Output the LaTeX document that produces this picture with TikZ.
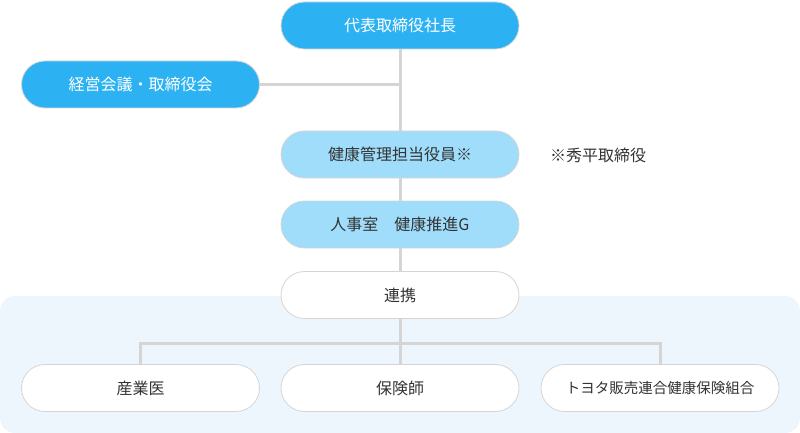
\documentclass[tikz,border=0pt]{standalone}
\usepackage{fontspec}
\setmainfont{Noto Sans CJK JP}
\definecolor{darkblue}{HTML}{2CB2F2}
\definecolor{lightblue}{HTML}{A0DDFB}
\definecolor{bgblue}{HTML}{EEF6FD}
\definecolor{linegray}{HTML}{D5D5D5}
\definecolor{textgray}{HTML}{333333}
\tikzset{
	box/.style={draw=linegray,line width=0.8pt,rounded corners=23.5pt,minimum width=238pt,minimum height=47pt,inner sep=0,font=\fontsize{16}{19}\selectfont,text=textgray},
	darkbox/.style={box,fill=darkblue,text=white},
	lightbox/.style={box,fill=lightblue},
	whitebox/.style={box,fill=white},
	conn/.style={draw=linegray,line width=3pt}
}
\begin{document}
\begin{tikzpicture}[x=1pt,y=-1pt]
	\useasboundingbox (0,0) rectangle (800,433);
	\fill[bgblue,rounded corners=15pt] (0,296) rectangle (800,433);
	\node[darkbox] (president) at (400,25.5) {代表取締役社長};
	\node[darkbox] (board) at (140.5,84.5) {経営会議・取締役会};
	\node[lightbox] (officer) at (400,154.5) {健康管理担当役員※};
	\node[lightbox] (hr) at (400,224.5) {人事室　健康推進G};
	\node[whitebox] (renkei) at (400,295) {連携};
	\node[whitebox] (doctor) at (140.5,388) {産業医};
	\node[whitebox] (nurse) at (400,388) {保険師};
	\node[whitebox,font=\fontsize{14.5}{17}\selectfont] (union) at (660,388) {トヨタ販売連合健康保険組合};
	\node[anchor=west,inner sep=0,font=\fontsize{16}{19}\selectfont,text=textgray] (note) at (550,155) {※秀平取締役};
	\coordinate (j1) at (400,84.5);
	\coordinate (j2) at (400,343);
	\draw[conn] (president) -- (officer);
	\draw[conn] (board) -- (j1);
	\draw[conn] (officer) -- (hr);
	\draw[conn] (hr) -- (renkei);
	\draw[conn] (renkei) -- (nurse);
	\draw[conn] (doctor.north) |- (j2) -| (union.north);
\end{tikzpicture}
\end{document}
